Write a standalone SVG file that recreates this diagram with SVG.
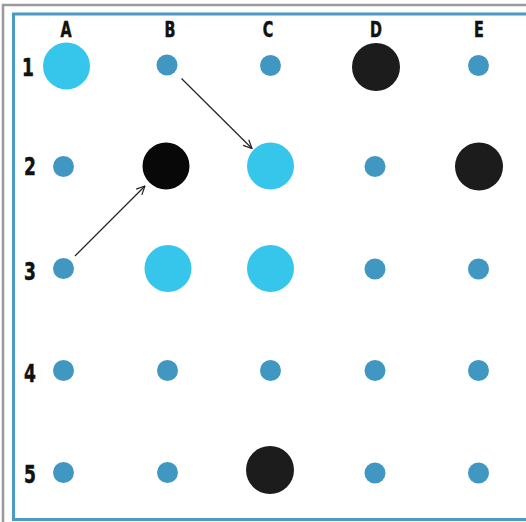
<svg xmlns="http://www.w3.org/2000/svg" width="526" height="522" viewBox="0 0 526 522">
<defs>
<style>
.lbl{font-family:"DejaVu Sans Condensed","Liberation Sans",sans-serif;font-weight:bold;fill:#111;stroke:#111;stroke-width:0.5;text-anchor:middle}
.col{font-size:21px}
.row{font-size:25px}
.s{fill:#4098c2}
.c{fill:#36c6ec}
.k{fill:#1c1c1c}
.conn{stroke:#222;stroke-width:1.2;fill:none}
</style>
<marker id="ah" viewBox="0 0 10 10" refX="9.5" refY="5" markerWidth="10" markerHeight="10" markerUnits="userSpaceOnUse" orient="auto">
<path d="M1,1 L9.5,5 L1,9" fill="none" stroke="#222" stroke-width="1.2"/>
</marker>
</defs>
<rect x="0" y="0" width="526" height="522" fill="#fff"/>
<path d="M3,530 V5 H530" fill="none" stroke="#9a9a9a" stroke-width="2.6"/>
<rect x="13.5" y="14" width="530" height="505.5" fill="none" stroke="#4a9cc4" stroke-width="3"/>
<g id="labels">
<text class="lbl col" transform="translate(66,37) scale(0.76,1)">A</text>
<text class="lbl col" transform="translate(170,37) scale(0.76,1)">B</text>
<text class="lbl col" transform="translate(268,37) scale(0.76,1)">C</text>
<text class="lbl col" transform="translate(376,37) scale(0.76,1)">D</text>
<text class="lbl col" transform="translate(479,37) scale(0.76,1)">E</text>
<text class="lbl row" transform="translate(28,76) scale(0.76,1)">1</text>
<text class="lbl row" transform="translate(30,175) scale(0.76,1)">2</text>
<text class="lbl row" transform="translate(30,280) scale(0.76,1)">3</text>
<text class="lbl row" transform="translate(30,382) scale(0.76,1)">4</text>
<text class="lbl row" transform="translate(30,483) scale(0.76,1)">5</text>
</g>
<g id="connectors">
<line class="conn" x1="75" y1="256" x2="145" y2="186" marker-end="url(#ah)"/>
<line class="conn" x1="181.5" y1="78.5" x2="252" y2="148.5" marker-end="url(#ah)"/>
</g>
<g id="A1"><circle class="c" cx="66.5" cy="66" r="23.5"/></g>
<g id="B1"><circle class="s" cx="167" cy="65" r="10.5"/></g>
<g id="C1"><circle class="s" cx="270.5" cy="65.5" r="10.5"/></g>
<g id="D1"><circle class="k" cx="376" cy="67" r="24"/></g>
<g id="E1"><circle class="s" cx="478.5" cy="65.5" r="10.5"/></g>
<g id="A2"><circle class="s" cx="63.5" cy="166.5" r="10.5"/></g>
<g id="B2"><circle class="k" cx="166" cy="166" r="23.5" style="fill:#080808"/></g>
<g id="C2"><circle class="c" cx="270.5" cy="166" r="23.5"/></g>
<g id="D2"><circle class="s" cx="375" cy="166.5" r="10.5"/></g>
<g id="E2"><circle class="k" cx="479" cy="166.5" r="24"/></g>
<g id="A3"><circle class="s" cx="63.5" cy="268.5" r="10.5"/></g>
<g id="B3"><circle class="c" cx="168" cy="268.5" r="23.5"/></g>
<g id="C3"><circle class="c" cx="270.5" cy="268.5" r="23.5"/></g>
<g id="D3"><circle class="s" cx="375" cy="269" r="10.5"/></g>
<g id="E3"><circle class="s" cx="478.5" cy="269" r="10.5"/></g>
<g id="A4"><circle class="s" cx="63.5" cy="370.5" r="10.5"/></g>
<g id="B4"><circle class="s" cx="167.5" cy="370.5" r="10.5"/></g>
<g id="C4"><circle class="s" cx="270.5" cy="370.5" r="10.5"/></g>
<g id="D4"><circle class="s" cx="375" cy="370.5" r="10.5"/></g>
<g id="E4"><circle class="s" cx="478.5" cy="370.5" r="10.5"/></g>
<g id="A5"><circle class="s" cx="63.5" cy="472.5" r="10.5"/></g>
<g id="B5"><circle class="s" cx="167.5" cy="472.5" r="10.5"/></g>
<g id="C5"><circle class="k" cx="270" cy="470" r="24"/></g>
<g id="D5"><circle class="s" cx="375" cy="473" r="10.5"/></g>
<g id="E5"><circle class="s" cx="478.5" cy="473" r="10.5"/></g>
</svg>
